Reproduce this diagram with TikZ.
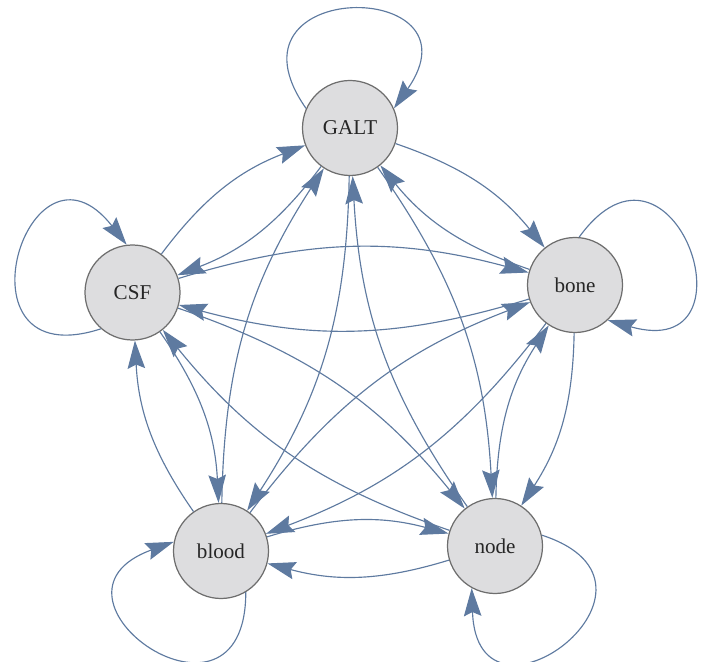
\documentclass[tikz,border=0pt]{standalone}
\usepackage{fontspec}
\setmainfont{Liberation Serif}
\usetikzlibrary{arrows.meta}
\definecolor{edgeblue}{RGB}{94,122,160}
\definecolor{nodegray}{RGB}{221,221,223}
\definecolor{rimgray}{RGB}{110,110,110}

\begin{document}
\begin{tikzpicture}[
	organ/.style={circle,draw=rimgray,line width=0.7pt,fill=nodegray,minimum size=1.9cm,inner sep=0pt,font=\fontsize{12}{14}\selectfont,text=black!85},
	link/.style={draw=edgeblue,line width=0.65pt,-{Stealth[length=5.6mm,width=3.5mm,inset=0.8mm]},bend left=16},
	selfloop/.style={draw=edgeblue,line width=0.65pt,-{Stealth[length=5.6mm,width=3.5mm,inset=0.8mm]},distance=3.2cm}]
			\useasboundingbox (0,0) rectangle (14.06,13.22);
			
			\node[organ] (GALT) at (7.00,10.66) {GALT};
			\node[organ] (bone) at (11.50,7.52) {bone};
			\node[organ] (node) at (9.90,2.30) {node};
			\node[organ] (blood) at (4.42,2.20) {blood};
			\node[organ] (CSF) at (2.65,7.37) {CSF};
			
			\draw[link] (GALT) to (bone);
			\draw[link] (bone) to (GALT);
			\draw[link] (GALT) to (CSF);
			\draw[link] (CSF) to (GALT);
			\draw[link] (GALT) to (blood);
			\draw[link] (blood) to (GALT);
			\draw[link] (GALT) to (node);
			\draw[link] (node) to (GALT);
			\draw[link] (CSF) to (bone);
			\draw[link] (bone) to (CSF);
			\draw[link] (CSF) to (blood);
			\draw[link] (blood) to (CSF);
			\draw[link] (CSF) to (node);
			\draw[link] (node) to (CSF);
			\draw[link] (bone) to (blood);
			\draw[link] (blood) to (bone);
			\draw[link] (bone) to (node);
			\draw[link] (node) to (bone);
			\draw[link] (blood) to (node);
			\draw[link] (node) to (blood);
			
			% loops, each one turned away from the centre
			\draw[selfloop] (GALT.156) to[out=125,in=55] (GALT.24);
			\draw[selfloop] (bone.85) to[out=54,in=-16] (bone.-47);
			\draw[selfloop] (node.13) to[out=-18,in=-88] (node.-119);
			\draw[selfloop] (blood.-59) to[out=-90,in=-160] (blood.169);
			\draw[selfloop] (CSF.229) to[out=198,in=128] (CSF.97);
		\end{tikzpicture}
\end{document}
